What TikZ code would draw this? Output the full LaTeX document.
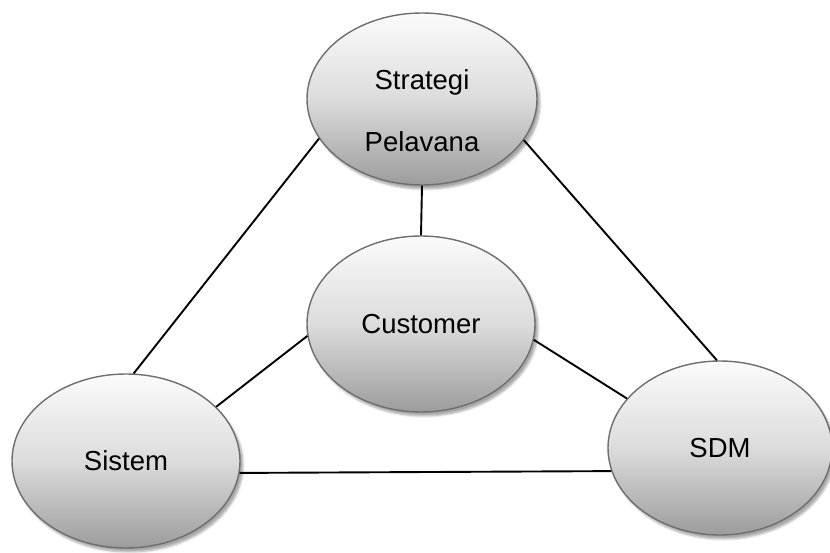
\documentclass[tikz,border=0pt]{standalone}
\usepackage{fontspec}
\setmainfont{Liberation Sans}
\usetikzlibrary{shapes.geometric,shadows.blur}
\definecolor{rimgray}{HTML}{6E6E6E}
\definecolor{topshade}{HTML}{FBFBFB}
\definecolor{midshade}{HTML}{DCDCDC}
\definecolor{botshade}{HTML}{9C9C9C}
\tikzset{
  bubble/.style={ellipse, draw=rimgray, line width=1.4pt, inner sep=0pt,
    top color=topshade, bottom color=botshade, middle color=midshade,
    blur shadow={shadow xshift=3pt, shadow yshift=-4pt, shadow opacity=35, shadow blur steps=6},
    font=\fontsize{27.5}{33}\selectfont},
  bubbletext/.style={align=center, inner sep=0pt, font=\fontsize{27.5}{62}\selectfont},
  link/.style={draw=black, line width=1.9pt}
}
\begin{document}
\begin{tikzpicture}[x=1pt,y=1pt]
  \useasboundingbox (0,0) rectangle (830,552);
  % four ellipses
  \node[bubble, minimum width=230pt, minimum height=172pt] (strat) at (422,453) {};
  \node[bubbletext] (strattext) at (422,441) {Strategi\\Pelavana};
  \node[bubble, minimum width=228pt, minimum height=176pt] (cust) at (421,228) {Customer};
  \node[bubble, minimum width=228pt, minimum height=174pt] (sis) at (126,91) {Sistem};
  \node[bubble, minimum width=224pt, minimum height=174pt] (sdm) at (720,104) {SDM};
  % connectors
  \draw[link] (strat.270) -- (cust.90);
  \draw[link] (strat.201.5) -- (sis.85);
  \draw[link] (strat.338.5) -- (sdm.92);
  \draw[link] (cust.186.5) -- (sis.31);
  \draw[link] (cust.352) -- (sdm.152);
  \draw[link] (sis.354) -- (sdm.192.6);
\end{tikzpicture}
\end{document}
